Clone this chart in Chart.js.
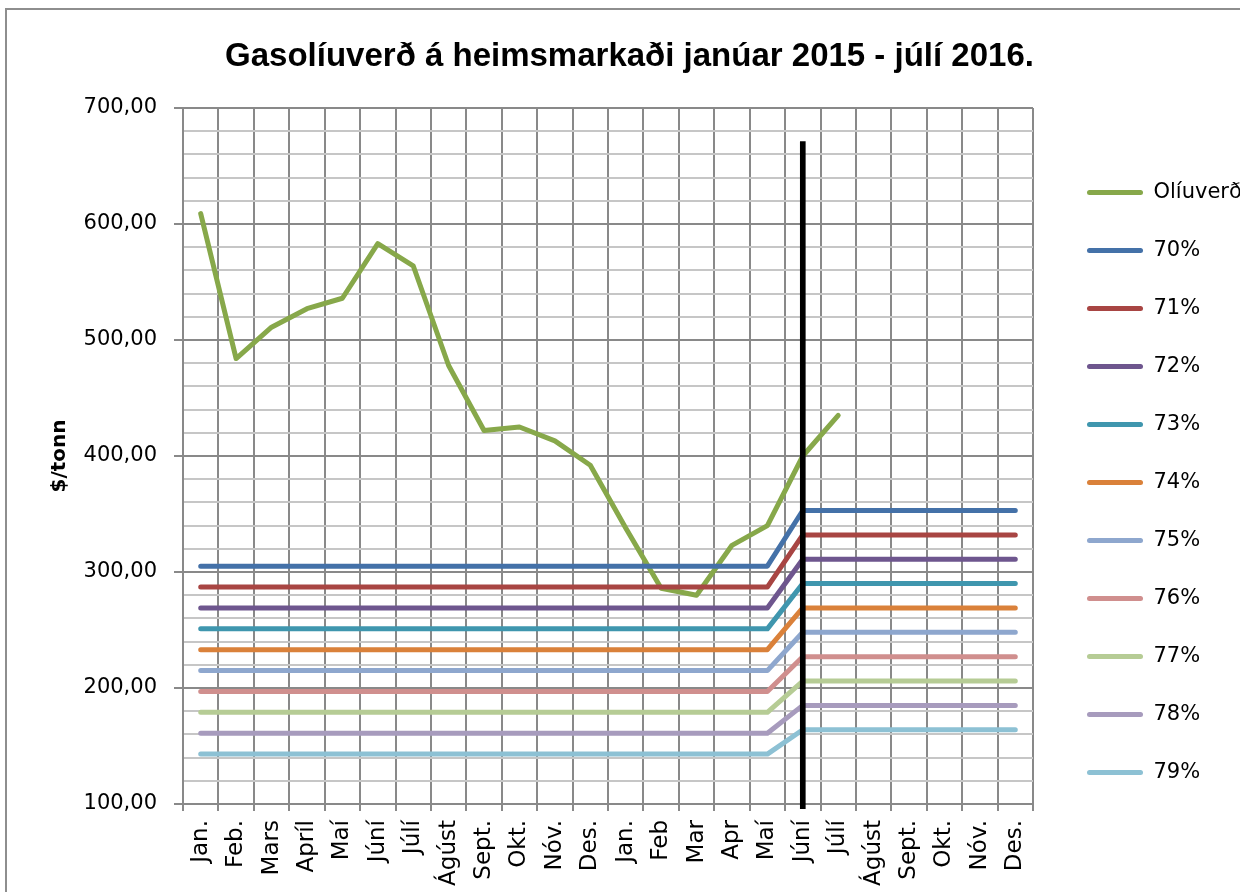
<!DOCTYPE html>
<html><head><meta charset="utf-8">
<script src="https://cdn.jsdelivr.net/npm/chart.js@4/dist/chart.umd.min.js"></script>
<style>
html,body{margin:0;padding:0;background:#fff;overflow:hidden;}
#wrap{position:relative;width:1240px;height:892px;overflow:hidden;}
#frame{position:absolute;left:5px;top:8px;width:1300px;height:1000px;border:2px solid #8e8e8e;pointer-events:none;}
canvas{position:absolute;left:0;top:0;}
</style></head><body>
<div id="wrap"><canvas id="c" width="1240" height="892"></canvas><div id="frame"></div></div>
<script>
// ---- data ----
const categories = ['Jan.','Feb.','Mars','Apríl','Maí','Júní','Júlí','Ágúst','Sept.','Okt.','Nóv.','Des.',
                    'Jan.','Feb','Mar','Apr','Maí','Júní','Júlí','Ágúst','Sept.','Okt.','Nóv.','Des.'];
const oilLabel = 'Olíuverð';
const oilPrice = [609, 484, 511, 527, 536, 583, 564, 478, 422, 425, 413, 392,
                  338, 286, 280, 323, 340, 400, 435, null, null, null, null, null];
const shareLabels = ['70%','71%','72%','73%','74%','75%','76%','77%','78%','79%'];
const levelUntilMay2016 = [305, 287, 269, 251, 233, 215, 197, 179, 161, 143];
const levelFromJune2016 = [353, 332, 311, 290, 269, 248, 227, 206, 185, 164];
const changeMonthIndex = 17;           // Júní 2016
const markerMonthIndex = 17;           // vertical black marker at Júní 2016
const markerRange = [96, 671];
const yTickValues = [100, 200, 300, 400, 500, 600, 700];

// ---- styles ----
const oilColor = '#87A84A';
const shareColors = ['#4471A8','#A84543','#6E568E','#3F96AE','#DA813A','#8EA7CE','#D08F8E','#B6CC95','#A79BBD','#8DC1D4'];
const gridMajor = '#898989', gridMinor = '#c6c6c6';

Chart.defaults.font.family = 'DejaVu Sans';
Chart.defaults.color = '#000';

const datasets = [];
datasets.push({
  type: 'line', label: oilLabel, data: oilPrice, borderColor: oilColor, backgroundColor: oilColor,
  borderWidth: 5, pointRadius: 0, tension: 0, borderCapStyle: 'round', borderJoinStyle: 'round', order: 20
});
shareLabels.forEach((lab, k) => {
  const data = categories.map((_, i) => i < changeMonthIndex ? levelUntilMay2016[k] : levelFromJune2016[k]);
  datasets.push({
    type: 'line', label: lab, data, borderColor: shareColors[k], backgroundColor: shareColors[k],
    borderWidth: 5, pointRadius: 0, tension: 0, borderCapStyle: 'round', borderJoinStyle: 'round', order: 19 - k
  });
});
const markerData = categories.map((_, i) => i === markerMonthIndex ? markerRange : null);
const markerIdx = datasets.length;
datasets.push({
  type: 'bar', label: '', data: markerData, backgroundColor: '#000', barThickness: 5,
  clip: false, order: 0, grouped: false
});

const padL = 19, padB = 0;

new Chart(document.getElementById('c'), {
  type: 'line',
  data: { labels: categories, datasets },
  options: {
    responsive: false, animation: false,
    layout: { padding: { left: padL, right: 0, top: 0, bottom: padB } },
    plugins: {
      tooltip: { enabled: false },
      title: {
        display: true, text: 'Gasolíuverð á heimsmarkaði janúar 2015 - júlí 2016.',
        font: { family: 'Liberation Sans', size: 33, weight: 'bold', lineHeight: 1.2 },
        color: '#000', padding: { top: 37, bottom: 31.4 }
      },
      legend: {
        position: 'right', align: 'start', maxWidth: 190,
        title: { display: true, text: ' ', font: { size: 16, lineHeight: 1 }, padding: { top: 65, bottom: 64 } },
        labels: {
          boxWidth: 56, boxHeight: 5, padding: 37, useBorderRadius: true, borderRadius: 2.5,
          font: { size: 21 }, color: '#000',
          sort: (a, b) => a.datasetIndex - b.datasetIndex,
          filter: (item) => item.datasetIndex !== markerIdx,
          generateLabels(chart) {
            const items = Chart.defaults.plugins.legend.labels.generateLabels(chart);
            items.forEach(it => {
              const ds = chart.data.datasets[it.datasetIndex];
              it.fillStyle = ds.borderColor; it.strokeStyle = ds.borderColor; it.lineWidth = 0;
            });
            return items;
          }
        }
      }
    },
    scales: {
      x: {
        type: 'category', offset: true,
        grid: { offset: true, color: gridMajor, lineWidth: 2, tickLength: 7, tickColor: gridMajor },
        border: { color: gridMajor, width: 2 },
        ticks: { minRotation: 90, maxRotation: 90, autoSkip: false, padding: 9, font: { size: 23 } },
        afterFit: (s) => { s.height = 892 - 804 - padB; }
      },
      y: {
        min: 100, max: 700,
        grid: {
          lineWidth: 2, tickLength: 9,
          color: (c) => (c.tick && yTickValues.includes(c.tick.value)) ? gridMajor : gridMinor,
          tickColor: (c) => (c.tick && yTickValues.includes(c.tick.value)) ? gridMajor : 'rgba(0,0,0,0)'
        },
        border: { color: gridMajor, width: 2 },
        ticks: {
          stepSize: 20, autoSkip: false, padding: 17, font: { size: 21 },
          callback: (v) => yTickValues.includes(v) ? v.toFixed(2).replace('.', ',') : ''
        },
        title: { display: true, text: '$/tonn', font: { size: 20, weight: 'bold' }, padding: { top: 29, bottom: 4 } },
        afterFit: (s) => { s.width = 183 - padL; }
      },
      y2: {
        position: 'right', display: true,
        grid: { display: false, drawTicks: false }, border: { display: false },
        ticks: { display: false },
        afterFit: (s) => { s.width = 17; }
      }
    }
  }
});
</script>
</body></html>
